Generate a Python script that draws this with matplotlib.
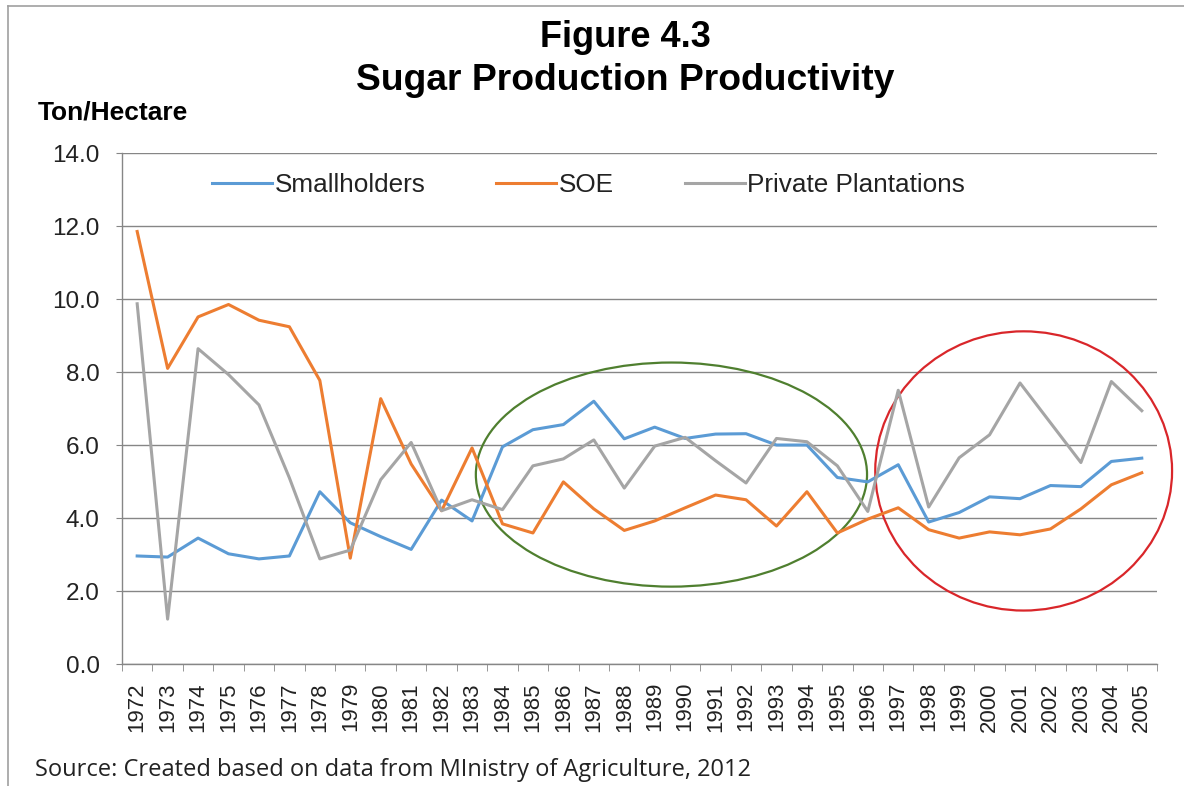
import numpy as np
import matplotlib.pyplot as plt
from matplotlib.patches import Ellipse
from matplotlib.lines import Line2D

years = list(range(1972, 2006))

smallholders = [2.96, 2.93, 3.45, 3.02, 2.88, 2.96, 4.72, 3.87, 3.49, 3.14, 4.49, 3.92,
                5.95, 6.42, 6.56, 7.20, 6.17, 6.49, 6.18, 6.30, 6.31, 6.00, 6.00,
                5.11, 4.99, 5.46, 3.89, 4.15, 4.58, 4.53, 4.89, 4.86, 5.55, 5.64]
soe = [11.85, 8.10, 9.51, 9.85, 9.42, 9.24, 7.77, 2.90, 7.27, 5.48, 4.20, 5.92,
       3.84, 3.59, 4.99, 4.25, 3.66, 3.92, 4.28, 4.63, 4.50, 3.78, 4.72,
       3.59, 3.97, 4.28, 3.68, 3.45, 3.62, 3.54, 3.70, 4.25, 4.91, 5.24]
private = [9.87, 1.23, 8.64, 7.93, 7.10, 5.10, 2.88, 3.12, 5.05, 6.07, 4.20, 4.50,
           4.23, 5.43, 5.62, 6.14, 4.82, 5.97, 6.21, 5.57, 4.96, 6.18, 6.09,
           5.43, 4.18, 7.50, 4.30, 5.65, 6.28, 7.70, 6.61, 5.52, 7.74, 6.94]

plt.rcParams['font.family'] = ['Liberation Sans', 'DejaVu Sans']

fig = plt.figure(figsize=(11.84, 7.86), dpi=100)
ax = fig.add_axes([0.103, 0.1552, 0.8742, 0.6501])

x = np.arange(len(years))
ax.plot(x, smallholders, color='#5B9BD5', lw=2.2, label='Smallholders')
ax.plot(x, soe, color='#ED7D31', lw=2.2, label='SOE')
ax.plot(x, private, color='#A5A5A5', lw=2.2, label='Private Plantations')

# highlight circles
ax.add_patch(Ellipse((17.55, 5.19), 12.85, 6.14, fill=False, ec='#4F7F2F', lw=1.6, clip_on=False))
ax.add_patch(Ellipse((29.12, 5.29), 9.75, 7.65, fill=False, ec='#D9262A', lw=1.6, clip_on=False))

ax.set_xlim(-0.5, len(years) - 0.5)
ax.set_ylim(0, 14)
ax.set_yticks(np.arange(0, 14.1, 2))
ax.set_yticklabels([f'{v:.1f}' for v in np.arange(0, 14.1, 2)])
ax.set_xticks(x)
ax.set_xticklabels([str(y) for y in years], rotation=90)
ax.set_xticks(np.arange(-0.5, len(years), 1), minor=True)
ax.tick_params(axis='x', which='major', length=0, pad=13, labelsize=16, labelcolor='#222222')
ax.tick_params(axis='x', which='minor', length=5, color='#868686', direction='out')
ax.tick_params(axis='y', length=4, color='#868686', pad=12, labelsize=17.5, labelcolor='#222222')

ax.grid(axis='y', color='#868686', lw=1)
ax.set_axisbelow(True)
for s in ['top', 'right']:
    ax.spines[s].set_visible(False)
for s in ['left', 'bottom']:
    ax.spines[s].set_color('#868686')
    ax.spines[s].set_linewidth(1)

leg = ax.legend(loc='center', bbox_to_anchor=(0.451, 0.937), ncol=3, frameon=False,
                fontsize=18.8, handlelength=2.3, handletextpad=0.1, columnspacing=2.7)
for t in leg.get_texts():
    t.set_color('#222222')

fig.text(0.528, 0.952, 'Figure 4.3', ha='center', va='center', fontsize=26, fontweight='bold')
fig.text(0.528, 0.898, 'Sugar Production Productivity', ha='center', va='center',
         fontsize=26.8, fontweight='bold')
fig.text(0.032, 0.857, 'Ton/Hectare', ha='left', va='center', fontsize=19, fontweight='bold')
fig.text(0.0296, 0.020, 'Source: Created based on data from MInistry of Agriculture, 2012',
         ha='left', va='center', fontsize=17, family=['Open Sans', 'DejaVu Sans'], color='#222222')

# outer frame lines
fig.add_artist(Line2D([8 / 1184, 1], [1 - 6 / 786, 1 - 6 / 786], color='#A0A0A0', lw=1.2))
fig.add_artist(Line2D([8 / 1184, 8 / 1184], [0, 1 - 6 / 786], color='#A0A0A0', lw=1.2))

fig.savefig('out.png', dpi=100)
